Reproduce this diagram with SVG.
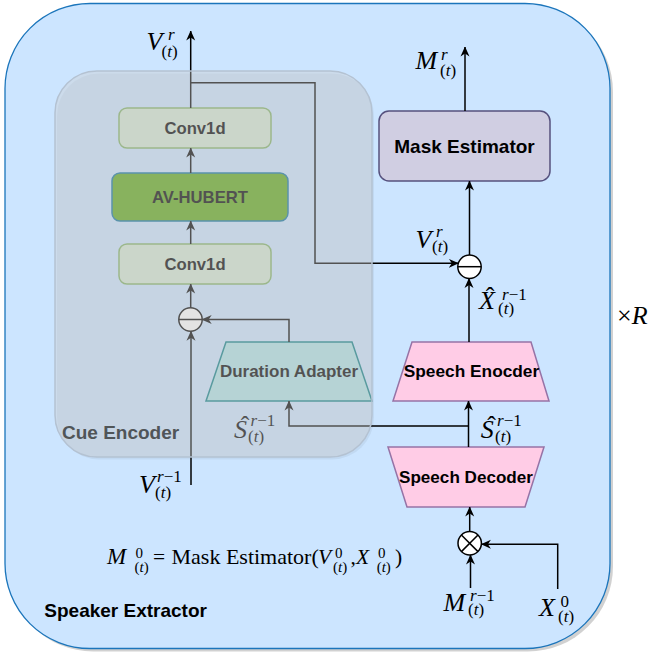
<svg xmlns="http://www.w3.org/2000/svg" width="650" height="656" viewBox="0 0 650 656">
<defs>
<marker id="arr" viewBox="0 0 10 10" refX="9.5" refY="5" markerWidth="10" markerHeight="10" markerUnits="userSpaceOnUse" orient="auto">
<path d="M0,0.5 L10,5 L0,9.5 L3,5 Z" fill="#000"/>
</marker>
</defs>
<style>
.lbl{font-family:"Liberation Sans",Arial,sans-serif;font-weight:bold;text-anchor:middle;fill:#000}
.edge{fill:none;stroke:#000;stroke-width:1.5;marker-end:url(#arr)}
.m{font-family:"Liberation Serif","Times New Roman",serif;fill:#000;font-size:26px}
.i{font-style:italic}
.s{font-size:17px}
.f{font-size:21.5px}
.fs{font-size:15px}
.h{text-anchor:middle}
</style>

<g id="speaker-extractor">
<rect x="8" y="6.5" width="605" height="645" rx="85" fill="#000" opacity="0.18"/>
<rect x="5" y="3.5" width="605" height="645" rx="85" fill="#cce5ff" stroke="#1b75bb" stroke-width="1.3"/>
<text x="44.3" y="616.7" font-family="Liberation Sans,Arial,sans-serif" font-weight="bold" font-size="19" fill="#000">Speaker Extractor</text>
</g>

<g id="conv1d-top">
<rect x="119" y="108" width="152" height="40" rx="8" fill="#d5e8d4" stroke="#82b366" stroke-width="1.5"/>
<text class="lbl" x="195" y="134.3" font-size="16.7">Conv1d</text>
</g>
<g id="av-hubert">
<rect x="112" y="173" width="176" height="48" rx="8" fill="#60a917" stroke="#10739e" stroke-width="1.5"/>
<text class="lbl" x="200" y="203.3" font-size="16.7">AV-HUBERT</text>
</g>
<g id="conv1d-bottom">
<rect x="119" y="244" width="152" height="40" rx="8" fill="#d5e8d4" stroke="#82b366" stroke-width="1.5"/>
<text class="lbl" x="195" y="270" font-size="16.7">Conv1d</text>
</g>
<g id="minus-cue">
<circle cx="190.5" cy="319.5" r="11.7" fill="#fff" stroke="#000" stroke-width="1.5"/>
<line x1="178.8" y1="319.5" x2="202.2" y2="319.5" stroke="#000" stroke-width="1.5"/>
</g>
<g id="duration-adapter">
<polygon points="226,342 352,342 372,401 206,401" fill="#b0e3e6" stroke="#0e8088" stroke-width="1.5"/>
<text class="lbl" x="289" y="377.3" font-size="17">Duration Adapter</text>
</g>

<g id="mask-estimator">
<rect x="379" y="111" width="171" height="70" rx="10" fill="#d0cee2" stroke="#56517e" stroke-width="1.5"/>
<text class="lbl" x="464.5" y="152.7" font-size="19">Mask Estimator</text>
</g>
<g id="minus-main">
<circle cx="469.5" cy="266.7" r="11.7" fill="#fff" stroke="#000" stroke-width="1.5"/>
<line x1="457.8" y1="266.7" x2="481.2" y2="266.7" stroke="#000" stroke-width="1.5"/>
</g>
<g id="speech-encoder">
<polygon points="412,342 531,342 549,401 393,401" fill="#ffcce6" stroke="#9673a6" stroke-width="1.5"/>
<text class="lbl" x="471.5" y="377.3" font-size="17.3">Speech Enocder</text>
</g>
<g id="speech-decoder">
<polygon points="388,447 544,447 525,507 407,507" fill="#ffcce6" stroke="#9673a6" stroke-width="1.5"/>
<text class="lbl" x="466" y="482.7" font-size="17.1">Speech Decoder</text>
</g>
<g id="multiply">
<circle cx="469.7" cy="543.3" r="11.7" fill="#fff" stroke="#000" stroke-width="1.5"/>
<line x1="461.4" y1="535" x2="478" y2="551.6" stroke="#000" stroke-width="1.5"/>
<line x1="478" y1="535" x2="461.4" y2="551.6" stroke="#000" stroke-width="1.5"/>
</g>

<g id="connectors">
<path class="edge" d="M190.7,108 V31"/>
<path class="edge" d="M190.7,82.7 H315 V263.3 H458.3"/>
<path class="edge" d="M469.5,255 V181"/>
<path class="edge" d="M465,111 V47"/>
<path class="edge" d="M469,342 V278.4"/>
<path class="edge" d="M468.5,447 V401"/>
<path class="edge" d="M468.5,426 H289 V401"/>
<path class="edge" d="M289,342 V319.5 H202.2"/>
<path class="edge" d="M190.7,307.8 V284"/>
<path class="edge" d="M190.7,244 V221"/>
<path class="edge" d="M190.7,173 V148"/>
<path class="edge" d="M191,485 V331.2"/>
<path class="edge" d="M469.7,531.6 V507"/>
<path class="edge" d="M470.5,588 V555"/>
<path class="edge" d="M557.7,589 V544.3 H481.4"/>

<text id="lbl-vr-top" class="m"><tspan class="i" x="146.5" y="50">V</tspan><tspan class="s i" x="168" y="39.5">r</tspan><tspan class="s" x="161.5" y="56.5">(</tspan><tspan class="s i">t</tspan><tspan class="s">)</tspan></text>
<text id="lbl-mr" class="m"><tspan class="i" x="415.5" y="68.5">M</tspan><tspan class="s i" x="441" y="60">r</tspan><tspan class="s" x="440" y="75.5">(</tspan><tspan class="s i">t</tspan><tspan class="s">)</tspan></text>
<text id="lbl-vr-right" class="m"><tspan class="i" x="415.5" y="247.5">V</tspan><tspan class="s i" x="436" y="237">r</tspan><tspan class="s" x="432" y="252">(</tspan><tspan class="s i">t</tspan><tspan class="s">)</tspan></text>
<text id="lbl-xhat" class="m"><tspan class="i" x="479" y="308.5">X</tspan><tspan class="h" x="490" y="305">ˆ</tspan><tspan class="s" x="502" y="300"><tspan class="i">r</tspan>−1</tspan><tspan class="s" x="498" y="314">(</tspan><tspan class="s i">t</tspan><tspan class="s">)</tspan></text>
<text id="lbl-shat-gray" class="m"><tspan class="i" x="234" y="437.5">S</tspan><tspan class="h" x="245" y="434">ˆ</tspan><tspan class="s" x="250.5" y="425.5"><tspan class="i">r</tspan>−1</tspan><tspan class="s" x="248" y="441.5">(</tspan><tspan class="s i">t</tspan><tspan class="s">)</tspan></text>
<text id="lbl-shat" class="m"><tspan class="i" x="480.7" y="437.5">S</tspan><tspan class="h" x="491.5" y="434">ˆ</tspan><tspan class="s" x="497" y="425.5"><tspan class="i">r</tspan>−1</tspan><tspan class="s" x="495" y="441.5">(</tspan><tspan class="s i">t</tspan><tspan class="s">)</tspan></text>
<text id="lbl-vr1" class="m"><tspan class="i" x="139" y="492.5">V</tspan><tspan class="s" x="157" y="482"><tspan class="i">r</tspan>−1</tspan><tspan class="s" x="155" y="498">(</tspan><tspan class="s i">t</tspan><tspan class="s">)</tspan></text>
<text id="lbl-mr1" class="m"><tspan class="i" x="443.5" y="610.5">M</tspan><tspan class="s" x="470" y="600.5"><tspan class="i">r</tspan>−1</tspan><tspan class="s" x="468" y="615">(</tspan><tspan class="s i">t</tspan><tspan class="s">)</tspan></text>
<text id="lbl-x0" class="m"><tspan class="i" x="539" y="615.5">X</tspan><tspan class="s" x="560.5" y="607">0</tspan><tspan class="s" x="558" y="622">(</tspan><tspan class="s i">t</tspan><tspan class="s">)</tspan></text>
</g>

<g id="cue-encoder">
<rect x="57" y="73.5" width="317" height="386" rx="42" fill="#000" opacity="0.05"/>
<rect x="55" y="71" width="317" height="386" rx="42" fill="#cccccc" fill-opacity="0.4" stroke="#b4c2d2" stroke-width="1.5"/>
<text x="62" y="439" font-family="Liberation Sans,Arial,sans-serif" font-weight="bold" font-size="19" fill="#505558">Cue Encoder</text>
</g>

<text id="repeat-R" class="m" x="617" y="324">×<tspan class="i">R</tspan></text>

<text id="formula" class="m f"><tspan class="i" x="107" y="564" font-size="23">M</tspan><tspan class="fs" x="135.5" y="557.5">0</tspan><tspan class="fs" x="134.5" y="572">(</tspan><tspan class="fs i">t</tspan><tspan class="fs">)</tspan><tspan x="159" y="564" class="h">=</tspan><tspan x="171.5" y="564" font-size="22">Mask Estimator(</tspan><tspan class="i" x="318" y="564">V</tspan><tspan class="fs" x="335" y="557.5">0</tspan><tspan class="fs" x="333" y="572">(</tspan><tspan class="fs i">t</tspan><tspan class="fs">)</tspan><tspan x="350.5" y="564">,</tspan><tspan class="i" x="356" y="564">X</tspan><tspan class="fs" x="378" y="557.5">0</tspan><tspan class="fs" x="376.7" y="572">(</tspan><tspan class="fs i">t</tspan><tspan class="fs">)</tspan><tspan x="395" y="564">)</tspan></text>
</svg>
